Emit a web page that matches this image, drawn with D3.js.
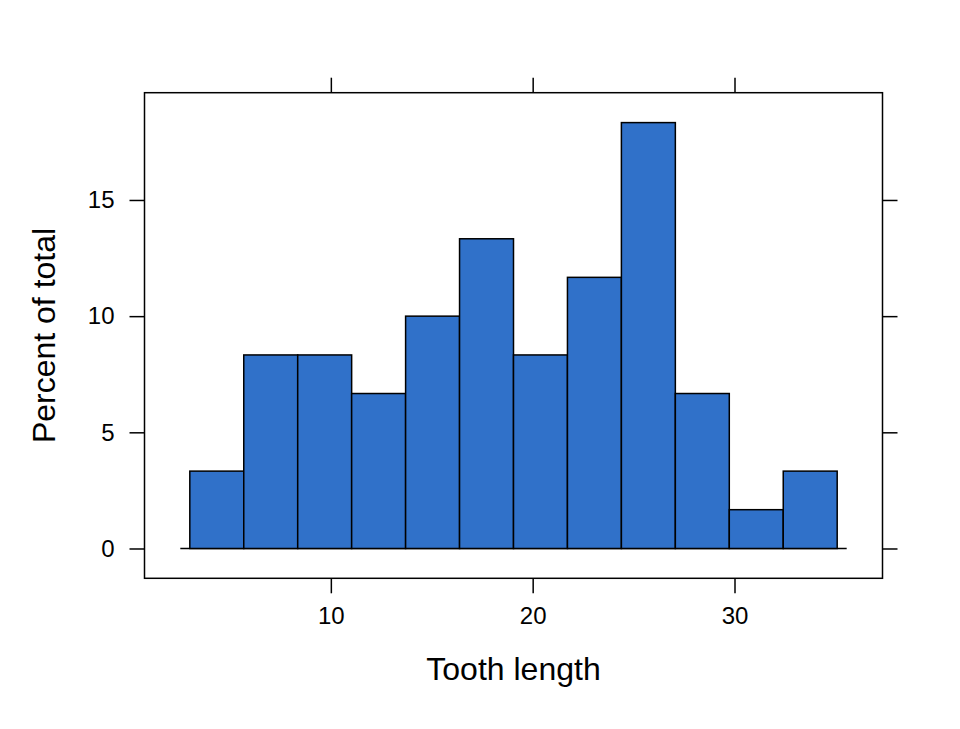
<!DOCTYPE html>
<html>
<head>
<meta charset="utf-8">
<script src="https://cdn.jsdelivr.net/npm/d3@7"></script>
<style>
  body { margin: 0; background: #fff; }
  text { font-family: "Liberation Sans", Arial, sans-serif; fill: #000; }
</style>
</head>
<body>
<div id="chart"></div>
<script>
// histogram of tooth length, 12 equal bins
var breaks = [3.012, 5.685, 8.358, 11.031, 13.704, 16.377, 19.050,
              21.723, 24.396, 27.069, 29.742, 32.415, 35.088];
var percents = [3.33, 8.33, 8.33, 6.67, 10.0, 13.33, 8.33, 11.67, 18.33, 6.67, 1.67, 3.33];
var xTicks = [10, 20, 30];
var yTicks = [0, 5, 10, 15];

var W = 960, H = 729;
var panel = {left: 144.5, right: 882.5, top: 92.7, bottom: 578.3};

var svg = d3.select("#chart")
  .append("svg")
    .attr("width", W)
    .attr("height", H);

var x = d3.scaleLinear()
    .domain([0.767, 37.333])
    .range([panel.left, panel.right]);
var y = d3.scaleLinear()
    .domain([-1.283, 19.617])
    .range([panel.bottom, panel.top]);

var bins = percents.map(function (p, i) {
  return {x0: breaks[i], x1: breaks[i + 1], pct: p};
});

// zero line
svg.append("line")
    .attr("x1", x(breaks[0]) - 9.5)
    .attr("x2", x(breaks[breaks.length - 1]) + 9.5)
    .attr("y1", y(0))
    .attr("y2", y(0))
    .style("stroke", "#000")
    .style("stroke-width", 1.5);

svg.append("g")
  .selectAll("rect")
  .data(bins)
  .enter()
  .append("rect")
    .attr("x", function (d) { return x(d.x0); })
    .attr("y", function (d) { return y(d.pct); })
    .attr("width", function (d) { return x(d.x1) - x(d.x0); })
    .attr("height", function (d) { return y(0) - y(d.pct); })
    .style("fill", "#3071C9")
    .style("stroke", "#000")
    .style("stroke-width", 1.5);

// panel box
svg.append("rect")
    .attr("x", panel.left)
    .attr("y", panel.top)
    .attr("width", panel.right - panel.left)
    .attr("height", panel.bottom - panel.top)
    .style("fill", "none")
    .style("stroke", "#000")
    .style("stroke-width", 1.5);

var tickLen = 15;
var axisFont = "24px";

// ticks on all four sides, labels only bottom and left
var axBottom = d3.axisBottom(x).tickValues(xTicks).tickSize(tickLen).tickPadding(14);
var axTop = d3.axisTop(x).tickValues(xTicks).tickSize(tickLen).tickFormat("");
var axLeft = d3.axisLeft(y).tickValues(yTicks).tickSize(tickLen).tickPadding(15);
var axRight = d3.axisRight(y).tickValues(yTicks).tickSize(tickLen).tickFormat("");

[[axBottom, "translate(0," + panel.bottom + ")"],
 [axTop, "translate(0," + panel.top + ")"],
 [axLeft, "translate(" + panel.left + ",0)"],
 [axRight, "translate(" + panel.right + ",0)"]].forEach(function (a) {
  var g = svg.append("g")
      .attr("transform", a[1])
      .call(a[0]);
  g.select(".domain").remove();
  g.selectAll("line").style("stroke", "#000").style("stroke-width", 1.5);
  g.selectAll("text")
      .style("font-family", "'Liberation Sans', Arial, sans-serif")
      .style("font-size", axisFont)
      .style("fill", "#000");
});

svg.append("text")
    .attr("x", (panel.left + panel.right) / 2)
    .attr("y", 680)
    .attr("text-anchor", "middle")
    .style("font-size", "32px")
    .text("Tooth length");

svg.append("text")
    .attr("transform", "translate(55," + (panel.top + panel.bottom) / 2 + ") rotate(-90)")
    .attr("text-anchor", "middle")
    .style("font-size", "32px")
    .text("Percent of total");
</script>
</body>
</html>
